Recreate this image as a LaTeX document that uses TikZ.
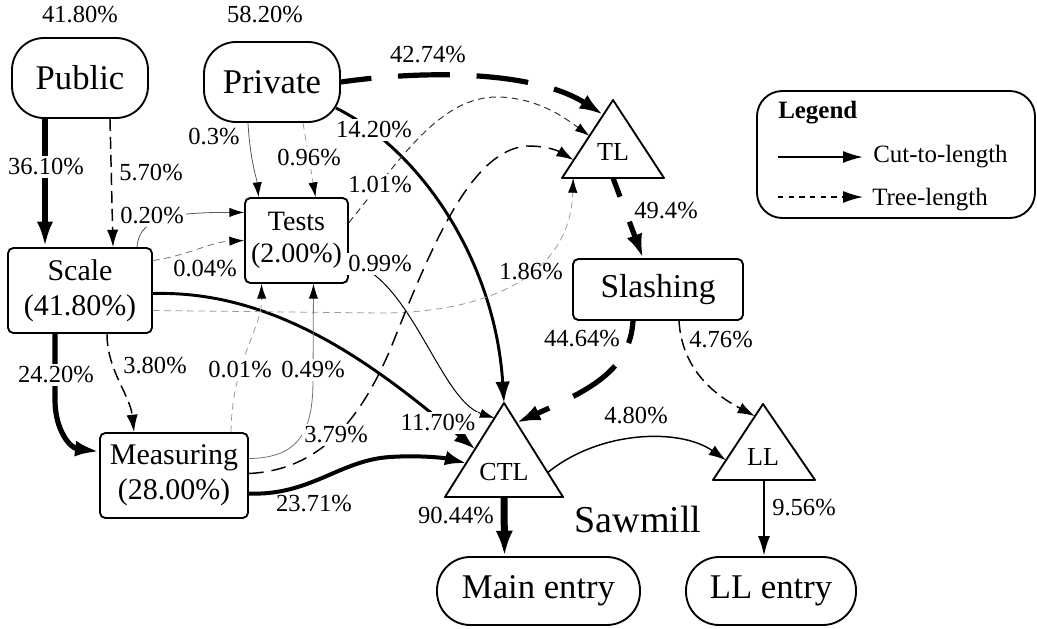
\documentclass[tikz,border=0pt]{standalone}
\usepackage{fontspec}
\setmainfont{Liberation Serif}
\usetikzlibrary{arrows.meta,calc}

\begin{document}
\begin{tikzpicture}[x=0.75pt,y=-0.75pt,
  box/.style={draw,line width=1.4pt,rounded corners=4pt,fill=white,align=center,inner sep=0pt},
  pill/.style={draw,line width=1.4pt,rounded corners=24pt,fill=white,inner sep=0pt,font=\fontsize{26}{30}\selectfont},
  tri/.style={draw,line width=1.4pt,line join=round,fill=white},
  trilabel/.style={inner sep=0pt,font=\fontsize{19.5}{22}\selectfont},
  pct/.style={inner sep=1pt,font=\fontsize{18.4}{20}\selectfont},
  pctw/.style={pct,fill=white,inner sep=2pt},
  legtext/.style={inner sep=0pt,anchor=base west,font=\fontsize{18.7}{22}\selectfont},
  % line weights
  w90/.style={line width=5.25pt,-{Latex[length=19pt,width=13pt]}},
  w36/.style={line width=4.5pt,-{Latex[length=19pt,width=12pt]}},
  wbig/.style={line width=3.9pt,-{Latex[length=18pt,width=12pt]}},
  wmid/.style={line width=2.2pt,-{Latex[length=16pt,width=11pt]}},
  wsm/.style={line width=1.8pt,-{Latex[length=15pt,width=9pt]}},
  wthin/.style={line width=1.1pt,-{Latex[length=13pt,width=8.5pt]}},
  whair/.style={line width=0.6pt,-{Latex[length=11pt,width=7pt,color=black]}},
  longdash/.style={dash pattern=on 39pt off 20pt},
  middash/.style={dash pattern=on 9pt off 4.5pt},
  finedash/.style={dash pattern=on 5pt off 3.5pt}
]
\useasboundingbox (0,0) rectangle (1037,628);

% triangle corners
\coordinate (TLa) at (613,100);  \coordinate (TLl) at (562,178);  \coordinate (TLr) at (664,178);
\coordinate (CTLa) at (504,403); \coordinate (CTLl) at (445,497); \coordinate (CTLr) at (563,497);
\coordinate (LLa) at (763,404);  \coordinate (LLl) at (713,480);  \coordinate (LLr) at (815,480);

% stations
\node[pill,minimum width=102pt,minimum height=60pt] (Public) at (80,78) {Public};
\node[pill,minimum width=102pt,minimum height=60pt] (Private) at (272,82) {Private};
\node[box,minimum width=77.25pt,minimum height=63.75pt,font=\fontsize{21}{24}\selectfont] (Tests) at (296.5,240.5) {Tests\\(2.00\%)};
\node[box,minimum width=108pt,minimum height=63.75pt,font=\fontsize{22.5}{26}\selectfont] (Scale) at (80,290.5) {Scale\\(41.80\%)};
\node[box,minimum width=111pt,minimum height=63.75pt,font=\fontsize{22.5}{26}\selectfont] (Measuring) at (174,475.5) {Measuring\\(28.00\%)};
\node[box,minimum width=127.5pt,minimum height=45.75pt,font=\fontsize{25}{30}\selectfont] (Slashing) at (658,289.5) {Slashing};
\node[pill,minimum width=152.25pt,minimum height=51pt,rounded corners=25pt] (Main) at (538.5,591) {Main entry};
\node[pill,minimum width=127.5pt,minimum height=51pt,rounded corners=25pt] (LLentry) at (771,591) {LL entry};

\draw[tri] (TLa) -- (TLr) -- (TLl) -- cycle;
\draw[tri] (CTLa) -- (CTLr) -- (CTLl) -- cycle;
\draw[tri] (LLa) -- (LLr) -- (LLl) -- cycle;
\node[trilabel] (TL) at (613,152) {TL};
\node[trilabel] (CTL) at (504,472) {CTL};
\node[trilabel] (LL) at (763,457) {LL};

\node[inner sep=0pt,font=\fontsize{28.5}{32}\selectfont] (Sawmill) at (638,519) {Sawmill};
\node[pct] (pPublic) at (80,14.5) {41.80\%};
\node[pct] (pPrivate) at (265,14.5) {58.20\%};

% flows
\draw[w36] ($(Public.south)+(-35,0)$) -- ($(Scale.north)+(-35,0)$);
\draw[wthin,middash] ($(Public.south)+(30,0)$) -- ($(Scale.north)+(33,0)$);
\draw[wbig,longdash,dash phase=16pt] (Private.east) .. controls (440,68) and (540,74) .. ($(TLa)!0.19!(TLl)$);
\draw[wmid] ($(Private.center)+(64,26)$) .. controls (420,150) and (495,260) .. (CTLa);
\draw[whair,black!65] ($(Private.south)+(-24,0)$) .. controls (250,160) and (257,180) .. ($(Tests.north)+(-38,0)$);
\draw[whair,black!40,finedash] ($(Private.south)+(31,0)$) -- ($(Tests.north)+(19,0)$);
\draw[whair,black!65] ($(Scale.north)+(57,0)$) .. controls (139,222) and (160,212) .. ($(Tests.west)+(0,-28)$);
\draw[whair,black!55,finedash] ($(Scale.east)+(0,-30)$) .. controls (190,255) and (210,242) .. (Tests.west);
\draw[whair,line width=0.75pt,black!80,finedash] ($(Tests.east)+(0,-18)$) .. controls (400,160) and (440,95) .. (500,97) .. controls (540,99) and (565,118) .. ($(TLa)!0.46!(TLl)$);
\draw[whair,line width=0.75pt,black] ($(Tests.east)+(0,22)$) .. controls (410,275) and (440,400) .. ($(CTLa)!0.16!(CTLl)$);
\draw[wmid] ($(Scale.east)+(0,3)$) .. controls (280,290) and (380,370) .. ($(CTLa)!0.49!(CTLl)$);
\draw[whair,black!40,finedash] ($(Scale.east)+(0,20)$) -- (380,313) .. controls (480,313) and (570,280) .. ($(TLl)!0.11!(TLr)$);
\draw[wbig] ($(Scale.south)+(-25,0)$) -- (55,400) .. controls (55,430) and (70,448) .. ($(Measuring.west)+(0,-24)$);
\draw[wthin,middash] ($(Scale.south)+(27,0)$) .. controls (107,370) and (130,395) .. ($(Measuring.north)+(-40,0)$);
\draw[whair,black!40,finedash] ($(Measuring.north)+(57,0)$) .. controls (232,360) and (262,330) .. ($(Tests.south)+(-35,0)$);
\draw[whair,black!55] ($(Measuring.east)+(0,-17)$) .. controls (300,458) and (313,430) .. (313,380) -- ($(Tests.south)+(17,0)$);
\draw[wthin,dash pattern=on 11pt off 6pt] ($(Measuring.east)+(0,-2)$) .. controls (320,470) and (360,420) .. (390,350) .. controls (430,250) and (470,150) .. (527,146) .. controls (550,146) and (560,152) .. ($(TLa)!0.77!(TLl)$);
\draw[wmid,line width=3pt] ($(Measuring.east)+(0,18)$) .. controls (310,496) and (340,460) .. (390,457) .. controls (420,455) and (445,458) .. ($(CTLa)!0.64!(CTLl)$);
\draw[wbig,longdash,dash phase=22pt] ($(Slashing.south)+(-25,0)$) .. controls (630,370) and (590,390) .. ($(CTLa)!0.21!(CTLr)$);
\draw[wthin,middash] ($(Slashing.south)+(21,0)$) .. controls (682,370) and (715,395) .. ($(LLa)!0.16!(LLl)$);
\draw[wbig,longdash,dash phase=24pt] ($(TLl)!0.5!(TLr)$) -- ($(Slashing.north)+(-15,0)$);
\draw[wthin] ($(CTLa)!0.74!(CTLr)$) .. controls (600,430) and (680,428) .. ($(LLa)!0.74!(LLl)$);
\draw[w90] ($(CTLl)!0.5!(CTLr)$) -- ($(Main.north)+(-34,0)$);
\draw[wsm] ($(LLl)!0.5!(LLr)$) -- ($(LLentry.north)+(-7,0)$);

% flow shares
\node[pctw] (l3610) at (46,167) {36.10\%};
\node[pct] (l570) at (151,173) {5.70\%};
\node[pct] (l03) at (214,137) {0.3\%};
\node[pctw] (l096) at (309,158) {0.96\%};
\node[pctw] (l020) at (152,216) {0.20\%};
\node[pctw] (l1420) at (374,130) {14.20\%};
\node[pct] (l4274) at (428,55) {42.74\%};
\node[pctw] (l101) at (380,185) {1.01\%};
\node[pct] (l494) at (666,211) {49.4\%};
\node[pct] (l004) at (205,269) {0.04\%};
\node[pctw] (l099) at (380,264) {0.99\%};
\node[pct] (l186) at (531,272) {1.86\%};
\node[pct] (l4464) at (582,339) {44.64\%};
\node[pct] (l476) at (721,340) {4.76\%};
\node[pctw] (l2420) at (56,375) {24.20\%};
\node[pct] (l380) at (155,366) {3.80\%};
\node[pctw] (l001) at (240,370) {0.01\%};
\node[pctw] (l049) at (313,370) {0.49\%};
\node[pctw] (l379) at (336,435) {3.79\%};
\node[pct] (l2371) at (314,504) {23.71\%};
\node[pctw] (l1170) at (438,423) {11.70\%};
\node[pct] (l480) at (636,416) {4.80\%};
\node[pct] (l9044) at (456,516) {90.44\%};
\node[pct] (l956) at (804,508) {9.56\%};

% legend
\node[draw,line width=1.4pt,rounded corners=19pt,minimum width=208.5pt,minimum height=95.25pt] (legend) at (896,154.5) {};
\node[legtext,font=\fontsize{18.7}{22}\selectfont\bfseries] (legtitle) at (778,118) {Legend};
\coordinate (lgA1) at (778,157); \coordinate (lgA2) at (863,157);
\coordinate (lgB1) at (778,197); \coordinate (lgB2) at (863,197);
\draw[line width=1.5pt,-{Latex[length=15pt,width=9pt]}] (lgA1) -- (lgA2);
\draw[line width=1.2pt,dash pattern=on 4pt off 4pt,-{Latex[length=15pt,width=9pt]}] (lgB1) -- (lgB2);
\node[legtext] (legcut) at (873,162) {Cut-to-length};
\node[legtext] (legtree) at (872,205) {Tree-length};
\end{tikzpicture}
\end{document}
